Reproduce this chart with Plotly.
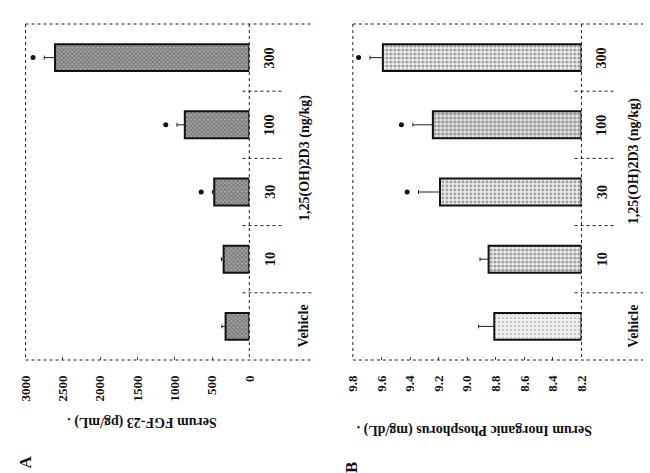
import plotly.graph_objects as go

# ---- data -------------------------------------------------------------
categories = ["Vehicle", "10", "30", "100", "300"]
dose_title = "1,25(OH)2D3 (ng/kg)"

fgf23 = [318, 344, 470, 865, 2605]          # pg/mL
fgf23_err = [50, 30, 25, 105, 145]
fgf23_sig = [False, False, True, True, True]
fgf23_ticks = [0, 500, 1000, 1500, 2000, 2500, 3000]

phos = [8.81, 8.85, 9.19, 9.24, 9.59]       # mg/dL
phos_err = [0.11, 0.06, 0.15, 0.14, 0.09]
phos_sig = [False, False, True, True, True]
phos_ticks = [8.2, 8.4, 8.6, 8.8, 9.0, 9.2, 9.4, 9.6, 9.8]

# ---- page geometry (pixels) ---------------------------------------------
W, H = 650, 473
TOP, BOTTOM = 24, 360


def px(x):
    return x / W


def py(y):
    return 1 - y / H


FONT = "Liberation Serif"
LINE = dict(color="#222222", width=1, dash="dot")

panels = [
    dict(name="A", vals=fgf23, errs=fgf23_err, sig=fgf23_sig, ticks=fgf23_ticks,
         ticktext=[str(t) for t in fgf23_ticks], vmin=0, vmax=3000, pad=150,
         left=18, axis=247, right=313, num_x=268, veh_x=302,
         title="Serum FGF-23 (pg/mL) .", title_xy=(137, 422), dose_xy=(304, 158),
         letter_xy=(17, 462),
         pattern=dict(shape="x", size=3, solidity=0.5, fgcolor="#3a3a3a", bgcolor="#a8a8a8"),
         line_w=2),
    dict(name="B", vals=phos, errs=phos_err, sig=phos_sig, ticks=phos_ticks,
         ticktext=[f"{t:.1f}" for t in phos_ticks], vmin=8.2, vmax=9.8, pad=0.08,
         left=353, axis=587, right=650, num_x=608, veh_x=640,
         title="Serum Inorganic Phosphorus (mg/dL) .", title_xy=(477, 430),
         dose_xy=(641, 161), letter_xy=(351, 467),
         pattern=dict(shape=".", size=4, solidity=[0.15, 0.5, 0.38, 0.6, 0.45],
                      fgcolor="#4a4a4a", bgcolor="#eeeeee"),
         line_w=2),
]

fig = go.Figure()
shapes, annotations = [], []

for i, p in enumerate(panels):
    k = "" if i == 0 else str(i + 1)
    xa, ya = "x" + k, "y" + k

    fig.add_trace(go.Bar(
        y=categories, x=[v - p["vmin"] for v in p["vals"]], base=p["vmin"],
        orientation="h", width=0.4, xaxis=xa, yaxis=ya, showlegend=False,
        marker=dict(color=p["pattern"]["bgcolor"], pattern=p["pattern"],
                    line=dict(color="#111111", width=p["line_w"])),
        error_x=dict(type="data", symmetric=False, array=p["errs"],
                     arrayminus=[0] * len(p["errs"]), color="#222222",
                     thickness=1, width=2),
    ))

    sig_y = [c for c, s in zip(categories, p["sig"]) if s]
    sig_x = [v + e + p["pad"] for v, e, s in zip(p["vals"], p["errs"], p["sig"]) if s]
    fig.add_trace(go.Scatter(
        x=sig_x, y=sig_y, mode="markers", xaxis=xa, yaxis=ya, showlegend=False,
        marker=dict(symbol="circle", size=5, color="#111111"),
    ))

    fig.update_layout({
        "xaxis" + k: dict(
            domain=[px(p["left"]), px(p["axis"])], range=[p["vmax"], p["vmin"]],
            anchor=ya, tickvals=p["ticks"], ticktext=p["ticktext"], tickangle=-90,
            ticks="inside", ticklen=3, tickcolor="#444444", showgrid=False,
            zeroline=False, showline=False, ticklabelstandoff=12,
            tickfont=dict(family=FONT, size=13, color="#111111", weight="bold"),
        ),
        "yaxis" + k: dict(
            domain=[py(BOTTOM), py(TOP)], range=[-0.5, len(categories) - 0.5],
            anchor=xa, type="category", showticklabels=False, ticks="",
            showgrid=False, zeroline=False, showline=False,
        ),
    })

    # plot frame and category dividers
    shapes += [
        dict(type="line", xref="paper", yref="paper", x0=px(p["left"]), x1=px(p["left"]),
             y0=py(TOP), y1=py(BOTTOM), line=LINE),
        dict(type="line", xref="paper", yref="paper", x0=px(p["left"]), x1=px(p["right"]),
             y0=py(TOP), y1=py(TOP), line=LINE),
        dict(type="line", xref="paper", yref="paper", x0=px(p["left"]), x1=px(p["right"]),
             y0=py(BOTTOM), y1=py(BOTTOM), line=LINE),
        dict(type="line", xref="paper", yref="paper", x0=px(p["axis"]), x1=px(p["axis"]),
             y0=py(TOP), y1=py(BOTTOM), line=LINE),
        dict(type="line", xref="paper", yref=ya, x0=px(p["axis"] - 7), x1=px(p["right"]),
             y0=0.5, y1=0.5, line=LINE),
    ]
    for b in range(1, len(categories) - 1):
        shapes.append(dict(type="line", xref="paper", yref=ya,
                           x0=px(p["axis"] - 7), x1=px(p["axis"] + 33),
                           y0=b + 0.5, y1=b + 0.5, line=LINE))

    # category labels (positioned by category index)
    bold = dict(family=FONT, color="#111111", weight="bold")
    centred = dict(showarrow=False, xanchor="center", yanchor="middle")
    for j, c in enumerate(categories):
        annotations.append(dict(
            text=c, xref="paper", yref=ya, y=j,
            x=px(p["veh_x"] if c == "Vehicle" else p["num_x"]),
            textangle=-90, font=dict(size=14, **bold), **centred))
    annotations += [
        dict(text=dose_title, xref="paper", yref="paper", x=px(p["dose_xy"][0]),
             y=py(p["dose_xy"][1]), textangle=-90, font=dict(size=14, **bold), **centred),
        dict(text=p["title"], xref="paper", yref="paper", x=px(p["title_xy"][0]),
             y=py(p["title_xy"][1]), textangle=180, font=dict(size=14, **bold), **centred),
        dict(text=p["name"], xref="paper", yref="paper", x=px(p["letter_xy"][0]),
             y=py(p["letter_xy"][1]), textangle=-90, font=dict(size=17, **bold), **centred),
    ]

fig.update_layout(
    width=W, height=H, margin=dict(l=0, r=0, t=0, b=0),
    paper_bgcolor="white", plot_bgcolor="white", bargap=0.6,
    shapes=shapes, annotations=annotations,
)

fig.write_html("out.html")
